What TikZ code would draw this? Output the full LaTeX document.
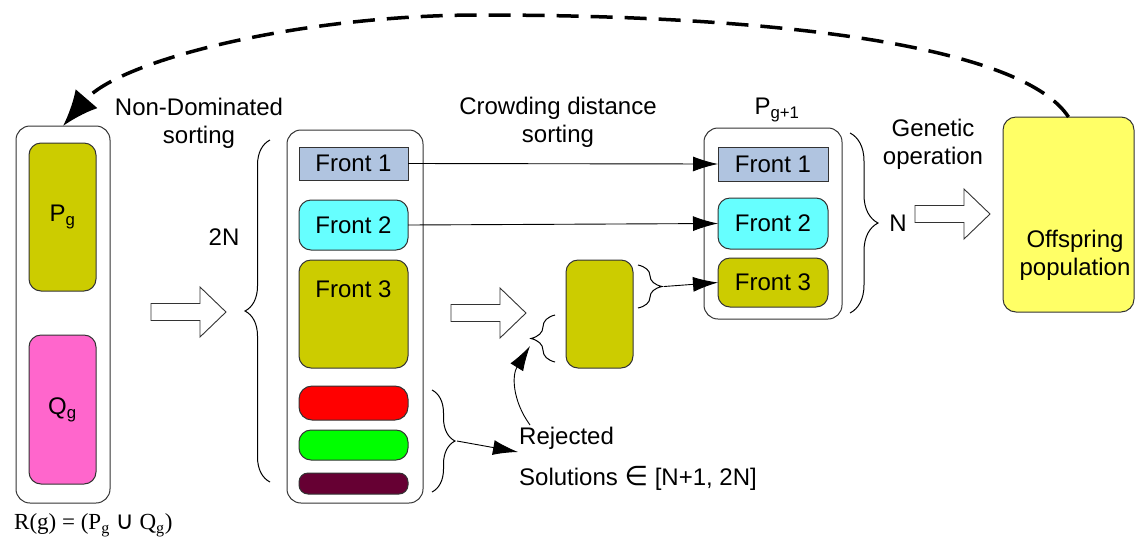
\documentclass[tikz,border=0pt]{standalone}
\usepackage{fontspec}
\setmainfont{Liberation Sans}
\newfontfamily\serifrm{Liberation Serif}
\newfontfamily\djv{DejaVu Sans}
\usetikzlibrary{arrows.meta,decorations.pathreplacing}
\definecolor{olive}{HTML}{CCCC00}
\definecolor{pinkq}{HTML}{FF66CC}
\definecolor{lblue}{HTML}{B0C4E0}
\definecolor{cyanf}{HTML}{66FFFF}
\definecolor{redf}{HTML}{FF0000}
\definecolor{greenf}{HTML}{00FF00}
\definecolor{maroonf}{HTML}{660033}
\definecolor{yellowf}{HTML}{FFFF66}
\definecolor{edge}{HTML}{333333}
\tikzset{
  box/.style={draw=edge, line width=1pt, inner sep=0pt, outer sep=0pt, rounded corners=14pt},
  sq/.style={draw=edge, line width=1pt, inner sep=0pt, outer sep=0pt},
  pill/.style={draw=edge, line width=1pt, inner sep=0pt, outer sep=0pt, rounded corners=10pt},
  lbl/.style={font=\fontsize{24}{28}\selectfont, inner sep=0pt},
  hollow/.style={draw=edge, line width=0.9pt, fill=white},
  brc/.style={draw=black, line width=1pt, decorate, decoration={brace, amplitude=#1}},
  arr/.style={draw=black, line width=0.9pt, -{Latex[length=25pt,width=15pt]}},
  dasharr/.style={draw=black, line width=3.5pt, dash pattern=on 22pt off 12pt, -{Latex[length=36pt,width=29pt]}},
  harrow/.pic={\draw[hollow] (0,-8.5) -- (49,-8.5) -- (49,-25) -- (75,0) -- (49,25) -- (49,8.5) -- (0,8.5) -- cycle;}
}
\begin{document}
\begin{tikzpicture}[x=1pt,y=-1pt]
\useasboundingbox (0,0) rectangle (1135,539);
% left population box
\node[box, minimum width=94pt, minimum height=377pt] (L) at (63,314.5) {};
\node[box, rounded corners=12pt, fill=olive, minimum width=67pt, minimum height=148pt] (pg) at (62.5,217) {};
\node[lbl] at (pg.center) {P\textsubscript{g}};
\node[box, rounded corners=12pt, fill=pinkq, minimum width=67pt, minimum height=149pt] (qg) at (62.5,409.5) {};
\node[lbl] at (qg.center) {Q\textsubscript{g}};
\node[inner sep=0pt, anchor=west, font=\serifrm\fontsize{23}{27}\selectfont] (rg) at (14,525) {R(g) = (P\textsubscript{g} {\djv\fontsize{25}{28}\selectfont ∪} Q\textsubscript{g})};
% labels
\node[lbl, align=center] (nds) at (199,123) {Non-Dominated\\sorting};
\node[lbl] (twoN) at (224,237) {2N};
\node[lbl, align=center] (cds) at (558,122) {Crowding distance\\sorting};
\node[lbl] (pg1) at (777,110) {P\textsubscript{g+1}};
\node[lbl, align=center] (gen) at (933,144) {Genetic\\operation};
\node[lbl] (Nl) at (898,223) {N};
% hollow arrows
\pic at (151,312) {harrow};
\pic at (451,313) {harrow};
\pic at (915,214) {harrow};
% middle box
\node[box, minimum width=136pt, minimum height=373pt] (M) at (355,316.5) {};
\node[sq, fill=lblue, minimum width=109pt, minimum height=33pt] (f1) at (353.5,163.5) {};
\node[lbl] at (f1.center) {Front 1};
\node[box, rounded corners=12pt, fill=cyanf, minimum width=109pt, minimum height=50pt] (f2) at (353.5,225) {};
\node[lbl] at (f2.center) {Front 2};
\node[box, rounded corners=12pt, fill=olive, minimum width=109pt, minimum height=108pt] (f3) at (353.5,314) {};
\node[lbl] at (353.5,289) {Front 3};
\node[pill, rounded corners=13pt, fill=redf, minimum width=109pt, minimum height=34pt] (r1) at (353.5,403) {};
\node[pill, rounded corners=12pt, fill=greenf, minimum width=109pt, minimum height=30pt] (r2) at (353.5,445) {};
\node[pill, rounded corners=9pt, fill=maroonf, minimum width=109pt, minimum height=21pt] (r3) at (353.5,483.5) {};
% small olive box
\node[box, rounded corners=12pt, fill=olive, minimum width=67pt, minimum height=108pt] (sm) at (599.5,314) {};
% right box
\node[box, minimum width=138pt, minimum height=191pt] (R) at (773,223.5) {};
\node[sq, fill=lblue, minimum width=110pt, minimum height=34pt] (g1) at (773,164) {};
\node[lbl] at (g1.center) {Front 1};
\node[box, rounded corners=12pt, fill=cyanf, minimum width=110pt, minimum height=51pt] (g2) at (773,223.5) {};
\node[lbl] at (g2.center) {Front 2};
\node[box, rounded corners=12pt, fill=olive, minimum width=110pt, minimum height=49pt] (g3) at (773,282.5) {};
\node[lbl] at (g3.center) {Front 3};
% offspring
\node[box, rounded corners=13pt, fill=yellowf, minimum width=131pt, minimum height=195pt] (off) at (1068.5,214.5) {};
\node[lbl, align=center] at (1075,255) {Offspring\\population};
% rejected text
\node[lbl, anchor=west] (rej) at (519,438) {Rejected};
\node[lbl, anchor=west] (sol) at (519,478) {Solutions {\djv\fontsize{27}{30}\selectfont ∈} [N+1, 2N]};
% braces
\draw[brc=25pt] (270,482) -- (270,140);
\draw[brc=23pt] (432,390) -- (432,492);
\draw[brc=24pt] (555,362) -- (555,315);
\draw[brc=24pt] (638,265) -- (638,308);
\draw[brc=28pt] (850,133) -- (850,313);
\coordinate (rbtip) at (457,441);
\coordinate (rejin) at (518,452);
\coordinate (rejtop) at (530,425);
\coordinate (sbin) at (530,346);
\coordinate (srtip) at (664,286.5);
% connectors
\draw[arr] (f1.east) -- (g1.west);
\draw[arr] (f2.east) -- (g2.west);
\draw[arr] (srtip) -- (g3.west);
\draw[arr] (rbtip) -- (rejin);
\draw[arr] (rejtop) .. controls (512,400) and (512,375) .. (sbin);
\draw[dasharr] (off.north) .. controls (1025,50) and (800,15) .. (480,15) .. controls (300,15) and (120,60) .. (L.north);
\end{tikzpicture}
\end{document}
